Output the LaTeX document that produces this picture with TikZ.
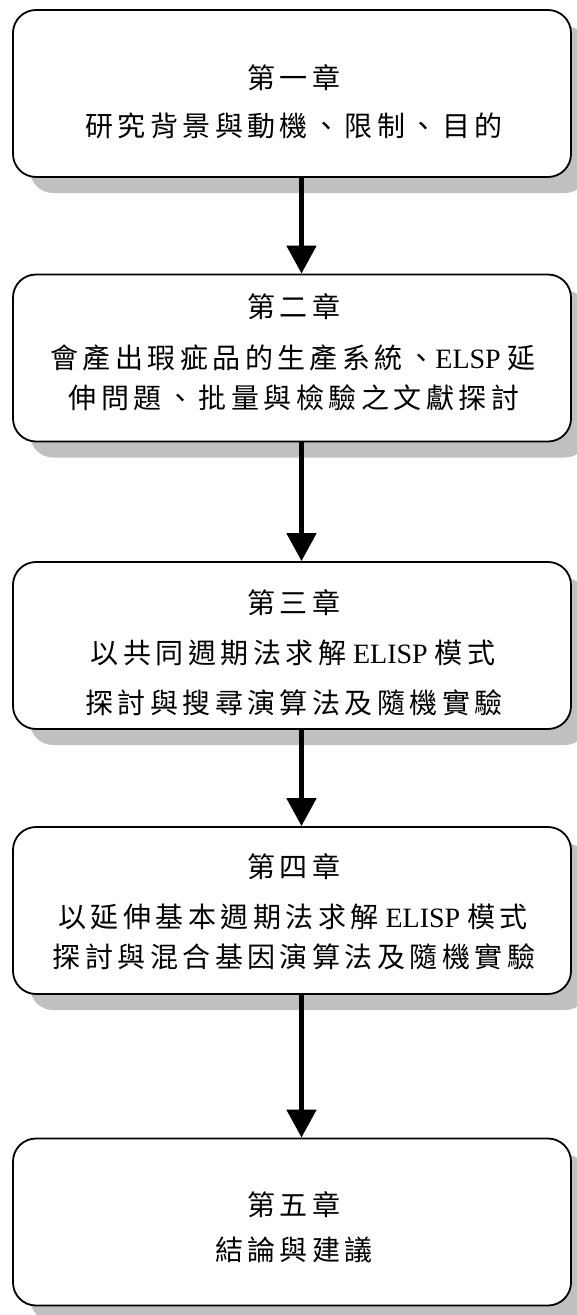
\documentclass[tikz,border=0pt]{standalone}
\usepackage{fontspec}
\setmainfont{Liberation Serif}
\newfontfamily\cjk[LetterSpace=16]{Noto Sans CJK TC}
\usetikzlibrary{arrows.meta,shadows}
\definecolor{shadowgray}{RGB}{192,192,192}
\tikzset{
  chapbox/.style={draw=black, line width=1.8pt, fill=white, rounded corners=23pt,
    minimum width=558pt, minimum height=167pt, inner sep=0pt,
    drop shadow={shadow xshift=17pt, shadow yshift=-16pt, fill=shadowgray, opacity=1}},
  txt/.style={inner sep=0pt, text height=21pt, text depth=0pt, font=\fontsize{28}{32}\selectfont},
  flow/.style={line width=5pt, -{Triangle[width=29pt,length=28pt]}},
}
\begin{document}
\begin{tikzpicture}[x=1pt,y=-1pt]
\useasboundingbox (0,0) rectangle (576,1315);
\node[chapbox] (b1) at (292,93.5) {};
\node[chapbox] (b2) at (292,358) {};
\node[chapbox] (b3) at (292,645.5) {};
\node[chapbox] (b4) at (292,910.5) {};
\node[chapbox] (b5) at (292,1222) {};

\node[txt] (t1a) at (294,78) {\cjk 第一章};
\node[txt] (t1b) at (294,126) {\cjk 研究背景與動機、限制、目的};

\node[txt] (t2a) at (294,307) {\cjk 第二章};
\node[txt] (t2b) at (293,358) {{\cjk 會產出瑕疵品的生產系統、}ELSP {\cjk 延}};
\node[txt] (t2c) at (294,398) {\cjk 伸問題、批量與檢驗之文獻探討};

\node[txt] (t3a) at (294,603) {\cjk 第三章};
\node[txt] (t3b) at (293,653) {{\cjk 以共同週期法求解} ELISP {\cjk 模式}};
\node[txt] (t3c) at (294,703) {\cjk 探討與搜尋演算法及隨機實驗};

\node[txt] (t4a) at (294,867) {\cjk 第四章};
\node[txt] (t4b) at (293,917) {{\cjk 以延伸基本週期法求解} ELISP {\cjk 模式}};
\node[txt] (t4c) at (294,957) {\cjk 探討與混合基因演算法及隨機實驗};

\node[txt] (t5a) at (294,1205) {\cjk 第五章};
\node[txt] (t5b) at (294,1250) {\cjk 結論與建議};

\draw[flow] ([xshift=9.5pt]b1.south) -- ([xshift=9.5pt]b2.north);
\draw[flow] ([xshift=9.5pt]b2.south) -- ([xshift=9.5pt]b3.north);
\draw[flow] ([xshift=9.5pt]b3.south) -- ([xshift=9.5pt]b4.north);
\draw[flow] ([xshift=9.5pt]b4.south) -- ([xshift=9.5pt]b5.north);
\end{tikzpicture}
\end{document}
